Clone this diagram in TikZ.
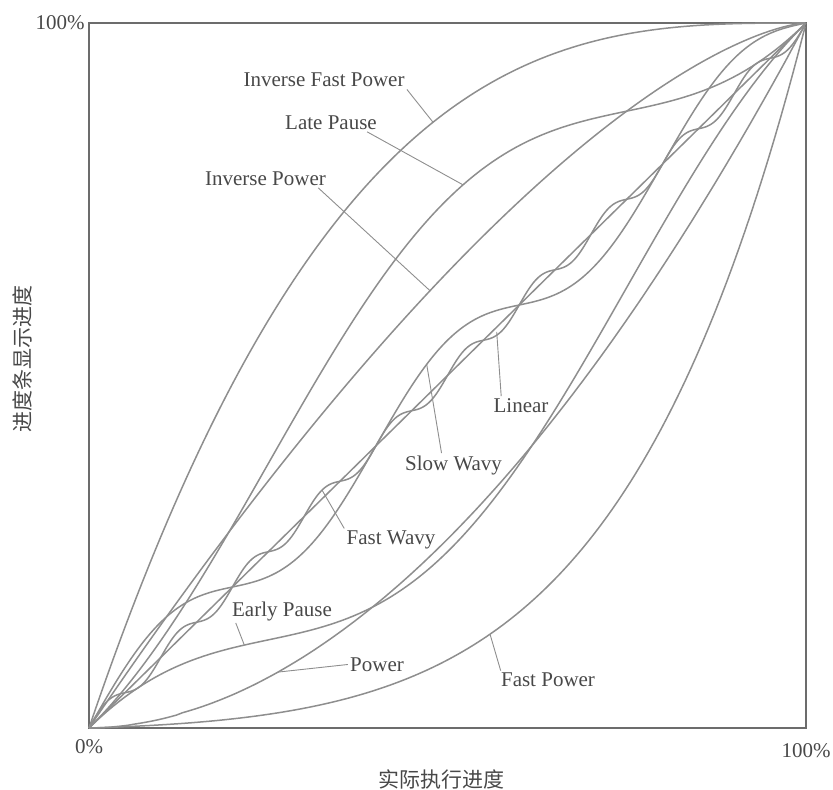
\documentclass[tikz,border=0pt]{standalone}
\usepackage{fontspec}
\setmainfont{Liberation Serif}
\newfontfamily\cjk{Noto Sans CJK SC}
\usepackage{tikz}
\usetikzlibrary{shapes,backgrounds,arrows}

\definecolor{linegray}{HTML}{8E8E8E}
\definecolor{boxgray}{HTML}{6C6C6C}
\definecolor{txtgray}{HTML}{484848}

\tikzset{
	curve/.style={draw=linegray, line width=0.75pt, line join=round},
	pointer/.style={draw=linegray, line width=0.45pt},
	lbl/.style={font=\fontsize{10.5}{12}\selectfont, text=txtgray, inner sep=1pt},
	cjklbl/.style={font=\cjk\fontsize{10.5}{12}\selectfont, text=txtgray, inner sep=0pt}
}

\begin{document}
\begin{tikzpicture}
			\useasboundingbox (0,0) rectangle (416.5pt,394.5pt);
			\begin{scope}[shift={(44.5pt,30.5pt)}, x=358.5pt, y=352.5pt]
			\coordinate (origin) at (0,0);
			\coordinate (right) at (1,0);
			\coordinate (top) at (0,1);
			\coordinate (corner) at (1,1);
			\draw[draw=boxgray, line width=0.7pt] (origin) rectangle (corner);
			\node[lbl, anchor=east, inner sep=2pt] (ytop) at (top) {100\%};
			\node[lbl, anchor=north] (xzero) at ([yshift=-4.5pt]origin) {0\%};
			\node[lbl, anchor=north] (xtop) at ([yshift=-6.5pt]right) {100\%};
			\node[cjklbl] (xlabel) at (0.4923,-0.0723) {实际执行进度};
			\node[cjklbl, rotate=90] (ylabel) at (-0.0934,0.5234) {进度条显示进度};
			% the nine curves
			\draw[curve] (origin) -- (corner);
			\draw[curve] plot[domain=0:1, samples=120] (\x, {\x - (1-cos(360*\x))/8});
			\draw[curve] plot[domain=0:1, samples=120] (\x, {\x + (1-cos(360*\x))/8});
			\draw[curve] plot[domain=0:1, samples=200] (\x, {\x + sin(900*\x)/20});
			\draw[curve] plot[domain=0:1, samples=481] (\x, {\x + sin(3600*\x)/80});
			\draw[curve] (origin) -- plot[domain=0.005:1, samples=120] (\x, {\x^1.9});
			\draw[curve] plot[domain=0:1, samples=120] (\x, {1 - (1-\x)*sqrt(1-\x)});
			\draw[curve] plot[domain=0:1, samples=120] (\x, {(((1+\x)/2)^8 - 1/256)/(1-1/256)});
			\draw[curve] plot[domain=0:1, samples=120] (\x, {1 - (1-\x)^3});
			% labels and their pointers
			\node[lbl] (ifp) at (0.3278,0.919) {Inverse Fast Power};
			\node[lbl] (latepause) at (0.3375,0.8589) {Late Pause};
			\node[lbl] (invpower) at (0.2462,0.7794) {Inverse Power};
			\node[lbl] (linear) at (0.6025,0.4574) {Linear};
			\node[lbl] (slowwavy) at (0.5084,0.373) {Slow Wavy};
			\node[lbl] (fastwavy) at (0.4212,0.2667) {Fast Wavy};
			\node[lbl] (earlypause) at (0.2692,0.166) {Early Pause};
			\node[lbl] (power) at (0.4017,0.0901) {Power};
			\node[lbl] (fastpower) at (0.6402,0.0681) {Fast Power};
			\coordinate (ifp-end) at (0.4798, {1 - (1-0.4798)^3});
			\coordinate (latepause-end) at (0.5216, {0.5216 + (1-cos(360*0.5216))/8});
			\coordinate (invpower-end) at (0.4756, {1 - (1-0.4756)*sqrt(1-0.4756)});
			\coordinate (linear-end) at (0.5686,0.5620);
			\coordinate (slowwavy-end) at (0.471, {0.471 + sin(900*0.471)/20});
			\coordinate (fastwavy-end) at (0.325, {0.325 + sin(3600*0.325)/80});
			\coordinate (earlypause-end) at (0.2166, {0.2166 - (1-cos(360*0.2166))/8});
			\coordinate (power-end) at (0.2636, {0.2636^1.9});
			\coordinate (fastpower-end) at (0.5593, {(((1+0.5593)/2)^8 - 1/256)/(1-1/256)});
			\draw[pointer] (ifp.south east) -- (ifp-end);
			\draw[pointer] ([xshift=-6pt]latepause.south east) -- (latepause-end);
			\draw[pointer] ([xshift=-5pt]invpower.south east) -- (invpower-end);
			\draw[pointer] ([xshift=5pt]linear.north west) -- (linear-end);
			\draw[pointer] ([xshift=-6pt]slowwavy.north) -- (slowwavy-end);
			\draw[pointer] (fastwavy.north west) -- (fastwavy-end);
			\draw[pointer] ([xshift=3pt]earlypause.south west) -- (earlypause-end);
			\draw[pointer] (power.west) -- (power-end);
			\draw[pointer] ([xshift=1pt]fastpower.north west) -- (fastpower-end);
			\end{scope}
\end{tikzpicture}
\end{document}
